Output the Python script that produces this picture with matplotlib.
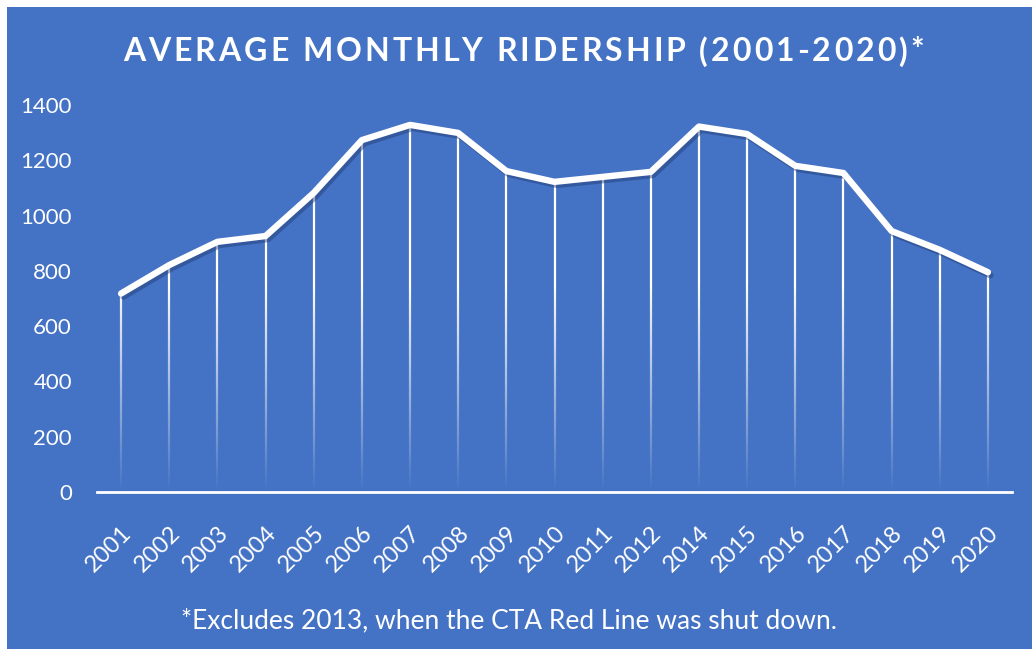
import numpy as np
import matplotlib
matplotlib.use('Agg')
import matplotlib.pyplot as plt
import matplotlib.patheffects as pe
from matplotlib.collections import LineCollection
from matplotlib.patches import Rectangle

years = ['2001', '2002', '2003', '2004', '2005', '2006', '2007', '2008', '2009', '2010',
         '2011', '2012', '2014', '2015', '2016', '2017', '2018', '2019', '2020']
ridership = [718, 821, 905, 926, 1082, 1273, 1328, 1299, 1161, 1122,
             1140, 1158, 1322, 1295, 1180, 1154, 944, 876, 795]
y_ticks = [0, 200, 400, 600, 800, 1000, 1200, 1400]

BLUE = '#4472C4'
FONT = 'Lato'
W, H = 1032, 649


def drop_lines(ax, x, y, n=80):
    """vertical white lines fading out towards the axis"""
    segs, cols = [], []
    for xi, yi in zip(x, y):
        edges = np.linspace(0, yi, n + 1)
        for lo, hi in zip(edges[:-1], edges[1:]):
            segs.append([(xi, lo), (xi, hi)])
            a = min(1.0, ((lo + hi) / 2) / 750.0)
            cols.append((1, 1, 1, a))
    lc = LineCollection(segs, colors=cols, linewidths=1.6, capstyle='butt', zorder=2)
    ax.add_collection(lc)


def spaced_text(fig, cx, cy, s, spacing, **kw):
    """draw a centred string with extra letter spacing (pixels)"""
    r = fig.canvas.get_renderer()
    probe = fig.text(0, 0, '', **kw)

    def width(txt):
        if not txt:
            return 0.0
        probe.set_text(txt.replace(' ', '\u00a0'))
        return probe.get_window_extent(r).width

    total = width(s) + spacing * (len(s) - 1)
    x0 = cx * W - total / 2
    for i, ch in enumerate(s):
        if ch == ' ':
            continue
        fig.text((x0 + width(s[:i]) + spacing * i) / W, cy, ch, ha='left', va='center', **kw)
    probe.remove()


fig = plt.figure(figsize=(10.32, 6.49), dpi=100, facecolor='white')
fig.patches.append(Rectangle((7 / W, 0), 1, 1 - 7 / H, transform=fig.transFigure,
                             facecolor=BLUE, edgecolor='none', zorder=-10))

ax = fig.add_axes([97 / W, 1 - 492 / H, (1012 - 97) / W, (492 - 105) / H])
ax.set_facecolor('none')

x = np.arange(len(years))
drop_lines(ax, x, ridership)
ax.plot(x, ridership, color='white', lw=4.6, solid_joinstyle='round', solid_capstyle='round',
        zorder=3,
        path_effects=[pe.SimpleLineShadow(offset=(1.8, -2.2), shadow_color='#1f3a6e', alpha=0.45),
                      pe.Normal()])

ax.set_xlim(-0.5, len(years) - 0.5)
ax.set_ylim(0, 1400)
ax.set_yticks(y_ticks)
ax.set_xticks(x)
ax.set_xticklabels(years, rotation=45, ha='right', va='top', rotation_mode='anchor')

for s in ['top', 'right', 'left']:
    ax.spines[s].set_visible(False)
ax.spines['bottom'].set_color('white')
ax.spines['bottom'].set_linewidth(2)
ax.tick_params(axis='both', length=0, colors='white', labelsize=16)
ax.tick_params(axis='y', pad=18)
ax.tick_params(axis='x', pad=22, labelsize=17)
for lab in ax.get_xticklabels() + ax.get_yticklabels():
    lab.set_family(FONT)

spaced_text(fig, 0.507, 0.920, 'AVERAGE MONTHLY RIDERSHIP (2001-2020)*', 3.0,
            color='white', fontsize=23, fontweight='bold', family=FONT)
fig.text(0.493, 0.043, '*Excludes 2013, when the CTA Red Line was shut down.', color='white',
         fontsize=19, family=FONT, ha='center', va='center')

fig.savefig('out.png', dpi=100, facecolor=fig.get_facecolor())
